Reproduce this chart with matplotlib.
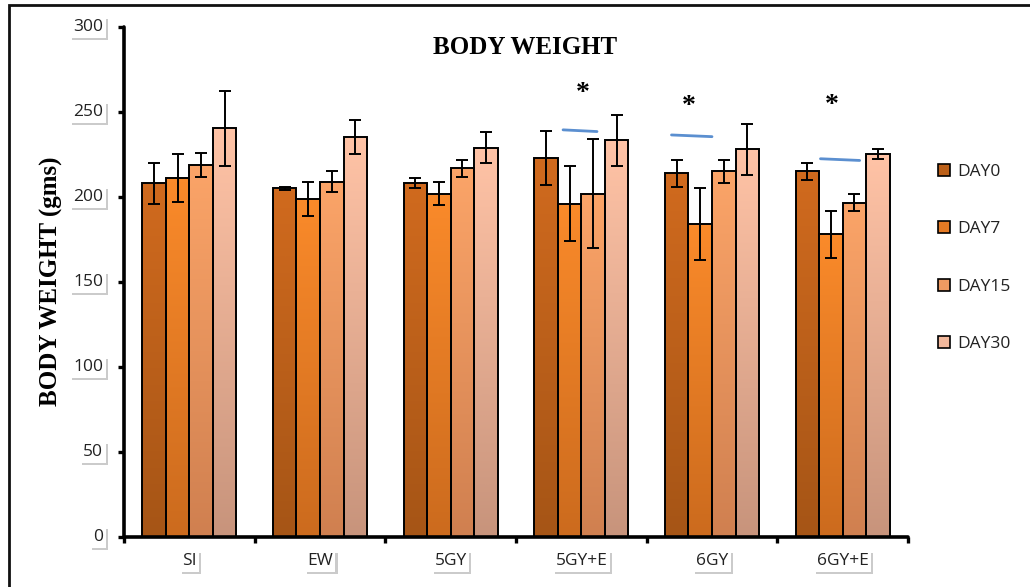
import matplotlib
matplotlib.use("Agg")
import matplotlib.pyplot as plt
import matplotlib.patheffects as pe
from matplotlib.patches import Patch, Rectangle
from matplotlib.colors import LinearSegmentedColormap
import numpy as np

# ---- data ----
groups = ["SI", "EW", "5GY", "5GY+E", "6GY", "6GY+E"]
series = ["DAY0", "DAY7", "DAY15", "DAY30"]

day0 = [208, 205, 208, 223, 214, 215]
day7 = [211, 199, 202, 196, 184, 178]
day15 = [219, 209, 217, 202, 215, 196.5]
day30 = [240.5, 235, 229, 233.5, 228, 225.5]

day0_err = [12, 1, 3, 16, 8, 5]
day7_err = [14, 10, 7, 22, 21, 14]
day15_err = [7, 6, 5, 32, 7, 5]
day30_err = [22, 10, 9, 15, 15, 3]

# significance marks: group, star height, line level (left, right)
sig_groups = ["5GY+E", "6GY", "6GY+E"]
sig_star = [261, 253.5, 254]
sig_line_left = [239.5, 236.5, 222.5]
sig_line_right = [238.5, 235.5, 221.5]

yticks = [0, 50, 100, 150, 200, 250, 300]

# ---- styling ----
top_cols = ["#D06A1E", "#FA8A2A", "#FBA468", "#FFC3A6"]
bot_cols = ["#A65516", "#CC6B1E", "#D08050", "#C8947C"]
legend_cols = ["#BC6019", "#E57A24", "#EE9A62", "#F2B89C"]
# hand drawn offsets (relative to group centre) for the blue lines / stars
line_dx = [(-0.14, 0.12), (-0.31, 0.0), (-0.17, 0.13)]
star_dx = [0.01, -0.18, -0.08]
tick_font = {"family": "Open Sans", "size": 12.5}

fig = plt.figure(figsize=(10.30, 5.87), dpi=100)
ax_w, ax_h = 784, 510
ax = fig.add_axes([124 / 1030, 1 - 537 / 587, ax_w / 1030, ax_h / 587])

values = [day0, day7, day15, day30]
errors = [day0_err, day7_err, day15_err, day30_err]
centers = np.arange(len(groups)) + 0.5
width = 0.18

for i, (vals, errs) in enumerate(zip(values, errors)):
    xs = centers + (i - 1.5) * width
    bars = ax.bar(xs, vals, width, facecolor="none", edgecolor="black",
                  linewidth=1.4, zorder=3)
    cmap = LinearSegmentedColormap.from_list("g%d" % i, [bot_cols[i], top_cols[i]])
    grad = np.linspace(0, 1, 64).reshape(-1, 1)
    for b in bars:
        x0 = b.get_x()
        im = ax.imshow(grad, cmap=cmap, origin="lower", aspect="auto",
                       extent=(x0, x0 + b.get_width(), 0, b.get_height()),
                       zorder=2, interpolation="bicubic")
        im.set_clip_path(b)
    ax.errorbar(xs, vals, yerr=errs, fmt="none", ecolor="black",
                elinewidth=1.4, capsize=4, capthick=1.4, zorder=4)

# significance annotations
for g, sy, yl, yr, (dl, dr), sdx in zip(sig_groups, sig_star, sig_line_left,
                                        sig_line_right, line_dx, star_dx):
    c = centers[groups.index(g)]
    ax.plot([c + dl, c + dr], [yl, yr], color="#5B8FD0", lw=2,
            solid_capstyle="round", zorder=5)
    ax.text(c + sdx, sy, "*", ha="center", va="center", fontsize=20,
            fontfamily="Liberation Serif", fontweight="bold", zorder=5)

ax.set_xlim(0, len(groups))
ax.set_ylim(0, 300)
for s in ["top", "right"]:
    ax.spines[s].set_visible(False)
for s in ["left", "bottom"]:
    ax.spines[s].set_linewidth(2.6)
    ax.spines[s].set_capstyle("round")

ax.set_xticks(np.arange(len(groups) + 1))
ax.set_xticklabels([])
ax.set_yticks(yticks)
ax.set_yticklabels([])
ax.tick_params(axis="both", direction="out", length=4, width=2.4, color="black")

shadow = [pe.withSimplePatchShadow(offset=(1.5, -2), shadow_rgbFace="0.55", alpha=0.45),
          pe.Normal()]
box = dict(boxstyle="square,pad=0.15", fc="white", ec="none")

for v in yticks:
    t = ax.text(-21 / ax_w, v, str(v), transform=ax.get_yaxis_transform(),
                ha="right", va="center", fontdict=tick_font,
                color="#222222", bbox=box)
    t.get_bbox_patch().set_path_effects(shadow)

for c, g in zip(centers, groups):
    t = ax.text(c, -16 / ax_h, g, transform=ax.get_xaxis_transform(),
                ha="center", va="top", fontdict=tick_font,
                color="#222222", bbox=box)
    t.get_bbox_patch().set_path_effects(shadow)

fig.text(525 / 1030, 1 - 47 / 587, "BODY WEIGHT", ha="center", va="center",
         fontsize=18, fontweight="bold", fontfamily="Liberation Serif")
fig.text(51 / 1030, 1 - 281 / 587, "BODY WEIGHT (gms)", ha="center", va="center",
         rotation=90, fontsize=18, fontweight="bold", fontfamily="Liberation Serif")

handles = [Patch(facecolor=c, edgecolor="black", linewidth=1.2) for c in legend_cols]
fig.legend(handles, series, loc="upper left",
           bbox_to_anchor=(922 / 1030, 1 - 148 / 587), frameon=False,
           prop=tick_font, labelspacing=2.38,
           handlelength=0.7, handleheight=0.7, handletextpad=0.45,
           labelcolor="#222222")

# outer frame of the pasted figure
fig.add_artist(Rectangle((9 / 1030, -0.1), 1.2, 1 - 5 / 587 + 0.1,
                         transform=fig.transFigure, fill=False,
                         edgecolor="#111111", linewidth=2))

fig.savefig("out.png", dpi=100)
